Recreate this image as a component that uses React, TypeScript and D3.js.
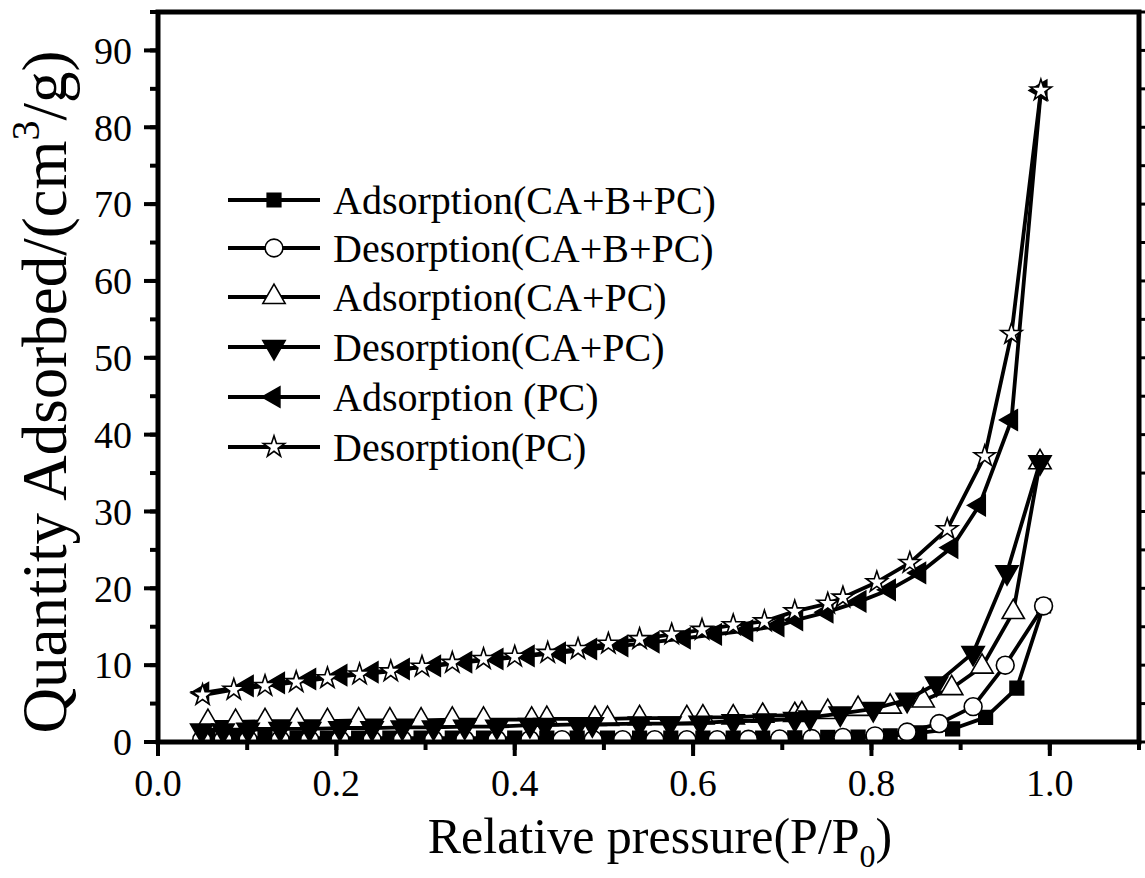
import React from "react";
import * as d3 from "d3";

// ---------- data ----------
const sqX = [0.056, 0.087, 0.12, 0.156, 0.19, 0.225, 0.26, 0.295, 0.33, 0.365, 0.40, 0.436, 0.47, 0.504, 0.54, 0.575, 0.611, 0.645, 0.678, 0.714, 0.751, 0.785, 0.821, 0.854, 0.891, 0.928, 0.963, 0.993];
const sqY = [0.5, 0.5, 0.5, 0.5, 0.5, 0.5, 0.5, 0.5, 0.5, 0.5, 0.5, 0.5, 0.5, 0.5, 0.5, 0.5, 0.5, 0.5, 0.5, 0.55, 0.6, 0.65, 0.8, 1.2, 1.7, 3.2, 7.0, 17.7];

const ciX = [0.049, 0.073, 0.101, 0.137, 0.170, 0.204, 0.240, 0.274, 0.309, 0.344, 0.380, 0.417, 0.453, 0.488, 0.521, 0.557, 0.593, 0.627, 0.662, 0.697, 0.733, 0.768, 0.804, 0.840, 0.876, 0.914, 0.950, 0.993];
const ciY = [0.3, 0.3, 0.3, 0.3, 0.3, 0.3, 0.3, 0.3, 0.3, 0.3, 0.3, 0.3, 0.3, 0.3, 0.3, 0.3, 0.3, 0.3, 0.35, 0.4, 0.45, 0.6, 0.8, 1.3, 2.4, 4.6, 10.0, 17.7];

const upX = [0.056, 0.087, 0.12, 0.156, 0.19, 0.225, 0.26, 0.295, 0.33, 0.365, 0.419, 0.436, 0.49, 0.504, 0.54, 0.593, 0.611, 0.645, 0.678, 0.714, 0.722, 0.751, 0.785, 0.821, 0.858, 0.89, 0.924, 0.959, 0.989];
const upY = [2.6, 2.6, 2.7, 2.7, 2.7, 2.8, 2.8, 2.8, 2.9, 2.9, 2.9, 3.0, 3.0, 3.0, 3.1, 3.1, 3.2, 3.2, 3.4, 3.5, 3.6, 3.9, 4.3, 4.6, 5.4, 7.0, 9.8, 16.9, 36.4];

const dnX = [0.049, 0.073, 0.101, 0.137, 0.170, 0.204, 0.240, 0.274, 0.309, 0.344, 0.380, 0.417, 0.434, 0.471, 0.487, 0.54, 0.574, 0.608, 0.645, 0.68, 0.714, 0.731, 0.765, 0.802, 0.84, 0.873, 0.914, 0.952, 0.989];
const dnY = [1.5, 1.5, 1.6, 1.7, 1.7, 1.8, 1.8, 1.9, 1.9, 2.0, 2.0, 2.2, 2.2, 2.3, 2.3, 2.4, 2.4, 2.5, 2.7, 2.8, 3.0, 3.2, 3.7, 4.3, 5.5, 7.6, 11.6, 22.1, 36.4];

const ltX = [0.05, 0.1, 0.135, 0.17, 0.205, 0.24, 0.275, 0.31, 0.345, 0.38, 0.415, 0.45, 0.485, 0.52, 0.555, 0.59, 0.625, 0.66, 0.695, 0.716, 0.75, 0.787, 0.82, 0.854, 0.89, 0.921, 0.957, 0.99];
const ltY = [6.4, 7.3, 7.7, 8.2, 8.7, 9.1, 9.5, 9.9, 10.4, 10.8, 11.2, 11.6, 12.1, 12.5, 13.0, 13.5, 14.0, 14.5, 15.1, 15.9, 16.9, 18.3, 19.8, 22.0, 25.3, 30.8, 41.9, 84.8];

const stX = [0.05, 0.085, 0.12, 0.155, 0.19, 0.226, 0.261, 0.296, 0.33, 0.365, 0.40, 0.437, 0.471, 0.505, 0.54, 0.576, 0.61, 0.645, 0.68, 0.714, 0.751, 0.768, 0.806, 0.843, 0.885, 0.927, 0.957, 0.99];
const stY = [6.1, 6.8, 7.3, 7.8, 8.3, 8.8, 9.2, 9.8, 10.3, 10.8, 11.1, 11.6, 12.1, 12.8, 13.4, 14.0, 14.6, 15.2, 15.7, 17.0, 18.0, 18.8, 20.8, 23.3, 27.7, 37.2, 53.1, 84.8];

const seriesNames = [
  "Adsorption(CA+B+PC)",
  "Desorption(CA+B+PC)",
  "Adsorption(CA+PC)",
  "Desorption(CA+PC)",
  "Adsorption (PC)",
  "Desorption(PC)",
];
const xTickValues = [0, 0.2, 0.4, 0.6, 0.8, 1.0];
const yTickValues = [0, 10, 20, 30, 40, 50, 60, 70, 80, 90];

// ---------- layout ----------
const W = 1145, H = 878;
const L = 158, R = 1139, T = 12, B = 742;
const FONT = "'Liberation Serif', 'Times New Roman', serif";

const x = d3.scaleLinear().domain([0, 1.1]).range([L, R]);
const y = d3.scaleLinear().domain([0, 95]).range([B, T]);

type MarkerSpec = { type: d3.SymbolType; size: number; rotate: number; fill: string };
const markers: MarkerSpec[] = [
  { type: d3.symbolSquare, size: 185, rotate: 0, fill: "#000" },
  { type: d3.symbolCircle, size: 250, rotate: 0, fill: "#fff" },
  { type: d3.symbolTriangle, size: 215, rotate: 0, fill: "#fff" },
  { type: d3.symbolTriangle, size: 215, rotate: 180, fill: "#000" },
  { type: d3.symbolTriangle, size: 180, rotate: -90, fill: "#000" },
  { type: d3.symbolStar, size: 140, rotate: 0, fill: "#fff" },
];

const seriesData = [
  { xs: sqX, ys: sqY },
  { xs: ciX, ys: ciY },
  { xs: upX, ys: upY },
  { xs: dnX, ys: dnY },
  { xs: ltX, ys: ltY },
  { xs: stX, ys: stY },
];

function Marker({ m, cx, cy }: { m: MarkerSpec; cx: number; cy: number }) {
  const path = d3.symbol().type(m.type).size(m.size)() || "";
  return (
    <path
      d={path}
      transform={`translate(${cx},${cy}) rotate(${m.rotate})`}
      fill={m.fill}
      stroke="#000"
      strokeWidth={1.6}
      strokeLinejoin="miter"
    />
  );
}

export default function App() {
  const line = d3
    .line<[number, number]>()
    .x((d) => x(d[0]))
    .y((d) => y(d[1]));

  const xMinor = d3.range(0, 1.1001, 0.1);
  const yMinor = d3.range(0, 95.001, 5);

  const legendRows = [200, 248, 297, 347, 397, 447];

  return (
    <svg
      width={W}
      height={H}
      style={{ position: "absolute", left: 0, top: 0, background: "#fff" }}
      fontFamily={FONT}
    >
      <rect x={0} y={0} width={W} height={H} fill="#fff" />
      <defs>
        <clipPath id="plotclip">
          <rect x={L} y={T} width={R - L} height={B - T} />
        </clipPath>
      </defs>

      <g clipPath="url(#plotclip)">
        {seriesData.map((s, i) => {
          const pts: [number, number][] = s.xs.map((v, k) => [v, s.ys[k]]);
          return (
            <g key={i}>
              <path d={line(pts) || ""} fill="none" stroke="#000" strokeWidth={3.8} strokeLinejoin="round" />
              {pts.map((p, k) => (
                <Marker key={k} m={markers[i]} cx={x(p[0])} cy={y(p[1])} />
              ))}
            </g>
          );
        })}
      </g>

      {/* frame */}
      <rect x={L} y={T} width={R - L} height={B - T} fill="none" stroke="#000" strokeWidth={5} />

      {/* x ticks */}
      {xMinor.map((v, i) => (
        <line key={"xm" + i} x1={x(v)} x2={x(v)} y1={B} y2={B + 8} stroke="#000" strokeWidth={4} />
      ))}
      {xTickValues.map((v, i) => (
        <g key={"xt" + i}>
          <line x1={x(v)} x2={x(v)} y1={B} y2={B + 14} stroke="#000" strokeWidth={4} />
          <text x={x(v)} y={796} fontSize={38} textAnchor="middle" fill="#000">
            {d3.format(".1f")(v)}
          </text>
        </g>
      ))}

      {/* y ticks */}
      {yMinor.map((v, i) => (
        <g key={"ym" + i}>
          <line x1={L - 8} x2={L} y1={y(v)} y2={y(v)} stroke="#000" strokeWidth={4} />
          <line x1={R} x2={R + 6} y1={y(v)} y2={y(v)} stroke="#000" strokeWidth={3} />
        </g>
      ))}
      {yTickValues.map((v, i) => (
        <g key={"yt" + i}>
          <line x1={L - 14} x2={L} y1={y(v)} y2={y(v)} stroke="#000" strokeWidth={4} />
          <text x={132} y={y(v)} dy="0.35em" fontSize={38} textAnchor="end" fill="#000">
            {v}
          </text>
        </g>
      ))}

      {/* axis titles */}
      <text x={660} y={853} fontSize={50} textAnchor="middle" fill="#000">
        Relative pressure(P/P
        <tspan fontSize={32} dy={14}>0</tspan>
        <tspan dy={-14}>)</tspan>
      </text>
      <text
        transform={`translate(66, 392) rotate(-90)`}
        fontSize={63}
        textAnchor="middle"
        fill="#000"
      >
        Quantity Adsorbed/(cm
        <tspan fontSize={40} dy={-27}>3</tspan>
        <tspan dy={27}>/g)</tspan>
      </text>

      {/* legend */}
      {seriesNames.map((name, i) => (
        <g key={"lg" + i}>
          <line x1={228} x2={320} y1={legendRows[i]} y2={legendRows[i]} stroke="#000" strokeWidth={3.8} />
          <Marker m={markers[i]} cx={274} cy={legendRows[i]} />
          <text x={333} y={legendRows[i]} dy="0.35em" fontSize={40} fill="#000">
            {name}
          </text>
        </g>
      ))}
    </svg>
  );
}
